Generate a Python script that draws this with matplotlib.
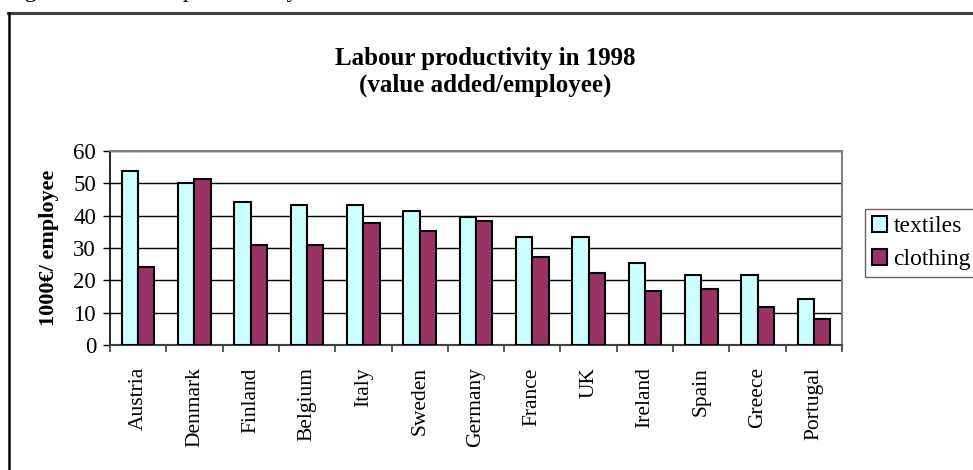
import numpy as np
import matplotlib
matplotlib.use("Agg")
import matplotlib.pyplot as plt
from matplotlib.lines import Line2D

# productivity per employee, 1000 EUR, 1998
countries = ["Austria", "Denmark", "Finland", "Belgium", "Italy", "Sweden",
             "Germany", "France", "UK", "Ireland", "Spain", "Greece", "Portugal"]
textiles = [53.8, 50.2, 44.1, 43.3, 43.3, 41.4, 39.5, 33.3, 33.3, 25.3, 21.7, 21.7, 14.2]
clothing = [24.2, 51.3, 30.8, 30.8, 37.6, 35.3, 38.4, 27.2, 22.3, 16.7, 17.3, 11.8, 8.0]
yticks = [0, 10, 20, 30, 40, 50, 60]

plt.rcParams['font.family'] = ['Liberation Serif', 'DejaVu Serif']

fig = plt.figure(figsize=(9.73, 4.70), dpi=100)
ax = fig.add_axes([110 / 973, 1 - 345 / 470, (842 - 110) / 973, (345 - 151) / 470])

x = np.arange(len(countries))
w = 0.29
ax.bar(x - w / 2, textiles, w, color="#CCFFFF", edgecolor="black", linewidth=1.5,
       label="textiles", zorder=3)
ax.bar(x + w / 2, clothing, w, color="#993366", edgecolor="black", linewidth=1.5,
       label="clothing", zorder=3)

ax.set_xlim(-0.5, len(countries) - 0.5)
ax.set_ylim(0, 60)
ax.set_yticks(yticks)
ax.yaxis.grid(True, color="black", linewidth=1.0, zorder=0)
ax.tick_params(axis="y", labelsize=16.5, length=5, width=1, pad=5)

# category labels at centres, tick marks between groups
ax.set_xticks(x)
ax.set_xticklabels(countries, rotation=90, fontsize=15.5)
ax.tick_params(axis="x", which="major", length=0, pad=16)
ax.set_xticks(np.arange(-0.5, len(countries)), minor=True)
ax.tick_params(axis="x", which="minor", length=5, width=1.2, color="#404040")

for side in ["top", "right"]:
    ax.spines[side].set_color("#808080")
    ax.spines[side].set_linewidth(1.5)
ax.spines["left"].set_linewidth(1.2)
ax.spines["bottom"].set_linewidth(1.5)
ax.spines["bottom"].set_color("#404040")

ax.set_ylabel("1000€/ employee", fontsize=16, fontweight="bold", labelpad=10)

fig.text(485 / 973, 1 - 72 / 470, "Labour productivity in 1998\n(value added/employee)",
         ha="center", va="center", fontsize=18, fontweight="bold", linespacing=1.2)

leg = fig.legend(loc="upper left", bbox_to_anchor=(865 / 973, 1 - 209 / 470),
                 fontsize=17, frameon=True, fancybox=False, edgecolor="#404040",
                 handlelength=0.65, handleheight=0.65, handletextpad=0.25,
                 borderpad=0.3, labelspacing=0.5, borderaxespad=0)
leg.get_frame().set_linewidth(1.0)

# outer chart border
fig.add_artist(Line2D([8 / 973, 1.0], [1 - 12.5 / 470] * 2, color="#404040", linewidth=2.2))
fig.add_artist(Line2D([8.5 / 973] * 2, [0, 1 - 12.5 / 470], color="black", linewidth=1.8))

# caption line of the page above the chart
fig.text(5 / 973, 1 + 3 / 470, "Figure 12: Labour productivity", fontsize=17, va="baseline")

fig.savefig("out.png", dpi=100, facecolor="white")
